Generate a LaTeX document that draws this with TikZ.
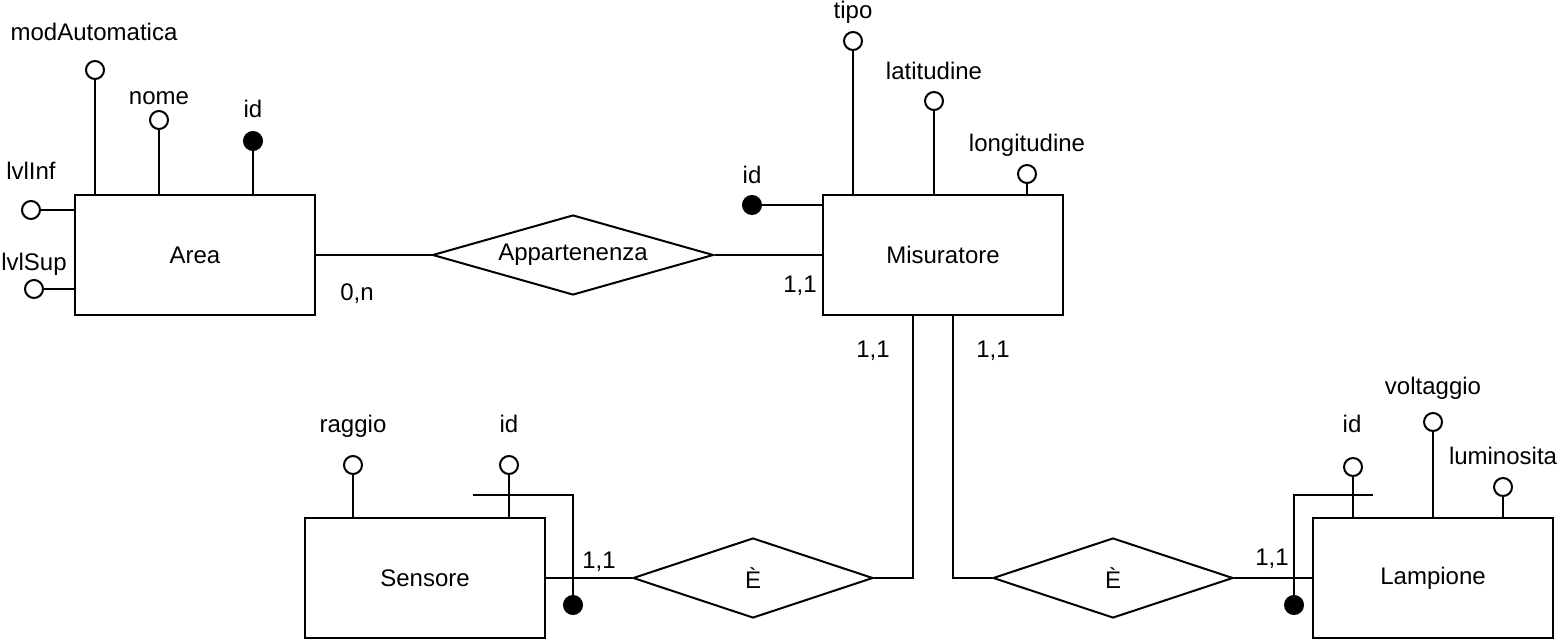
\documentclass[tikz,border=0pt]{standalone}
\usepackage{fontspec}
\setmainfont{Liberation Sans}
\usetikzlibrary{shapes.geometric}

\begin{document}
\begin{tikzpicture}[x=0.5pt, y=-0.5pt, line width=1pt, font=\fontsize{12}{14}\selectfont,
  entity/.style={draw, minimum width=120pt, minimum height=60pt},
  relation/.style={draw, diamond, inner sep=0pt, shape aspect=3.5, minimum height=40pt},
  attr/.style={draw, circle, fill=white, inner sep=0pt, minimum size=9pt},
  key/.style={attr, fill=black},
  lbl/.style={inner sep=0pt, text height=1.5ex, text depth=.25ex, yshift=-1pt}]

\useasboundingbox (0,0) rectangle (1561,640);

% entities and relations
\node[entity] (area) at (195,255) {Area};
\node[entity] (mis) at (943,255) {Misuratore};
\node[entity] (sens) at (425,578) {Sensore};
\node[entity] (lamp) at (1433,578) {Lampione};

\node[relation, minimum width=140.5pt] (app) at (573,255) {Appartenenza};
\node[relation, minimum width=120pt] (e1) at (753,578) {È};
\node[relation, minimum width=120pt] (e2) at (1113,578) {È};

\draw (area) -- (app) -- (mis);
\draw (sens) -- (e1);
\draw (e2) -- (lamp);
\draw ([xshift=-15pt]mis.south) |- (e1.east);
\draw ([xshift=5pt]mis.south) |- (e2.west);

% cardinalities
\node[lbl] (c1) at (357,292) {0,n};
\node[lbl] (c2) at (800,284) {1,1};
\node[lbl] (c3) at (873,349) {1,1};
\node[lbl] (c4) at (993,349) {1,1};
\node[lbl] (c5) at (599,560) {1,1};
\node[lbl] (c6) at (1272,557) {1,1};

% Area
\node[attr] (amod) at (95,70) {};
\node[attr] (anome) at (159,120) {};
\node[key] (aid) at (253,141) {};
\node[attr] (ainf) at (31,210) {};
\node[attr] (asup) at (34,289) {};
\draw (amod) -- (amod |- area.north);
\draw (anome) -- (anome |- area.north);
\draw (aid) -- (aid |- area.north);
\draw (ainf) -- (ainf -| area.west);
\draw (asup) -- (asup -| area.west);
\node[lbl] (lamod) at (94,32) {modAutomatica};
\node[lbl] (lanome) at (159,96) {nome};
\node[lbl] (laid) at (253,109) {id};
\node[lbl] (lainf) at (31,171) {lvlInf};
\node[lbl] (lasup) at (34,262) {lvlSup};

% Misuratore
\node[key] (mid) at (752,205) {};
\node[attr] (mtipo) at (853,41) {};
\node[attr] (mlat) at (934,101) {};
\node[attr] (mlon) at (1027,174) {};
\draw (mid) -- (mid -| mis.west);
\draw (mtipo) -- (mtipo |- mis.north);
\draw (mlat) -- (mlat |- mis.north);
\draw (mlon) -- (mlon |- mis.north);
\node[lbl] (lmid) at (752,175) {id};
\node[lbl] (lmtipo) at (853,10) {tipo};
\node[lbl] (lmlat) at (934,71) {latitudine};
\node[lbl] (lmlon) at (1027,143) {longitudine};

% Sensore
\node[attr] (sragg) at (353,465) {};
\node[attr] (sid) at (509,465) {};
\draw (sragg) -- (sragg |- sens.north);
\draw (sid) -- (sid |- sens.north);
\node[lbl] (lsragg) at (353,424) {raggio};
\node[lbl] (lsid) at (509,424) {id};
\coordinate (sk1) at (473,495);
\coordinate (sk2) at (573,495);
\node[key] (skey) at (573,605) {};
\draw (sk1) -- (sk2) -- (skey);

% Lampione
\node[attr] (lid) at (1353,467) {};
\node[attr] (lvolt) at (1433,422) {};
\node[attr] (llum) at (1503,487) {};
\draw (lid) -- (lid |- lamp.north);
\draw (lvolt) -- (lvolt |- lamp.north);
\draw (llum) -- (llum |- lamp.north);
\node[lbl] (llid) at (1352,424) {id};
\node[lbl] (llvolt) at (1433,386) {voltaggio};
\node[lbl] (lllum) at (1503,456) {luminosita};
\coordinate (lk1) at (1373,495);
\coordinate (lk2) at (1294,495);
\node[key] (lkey) at (1294,605) {};
\draw (lk1) -- (lk2) -- (lkey);

\end{tikzpicture}
\end{document}
